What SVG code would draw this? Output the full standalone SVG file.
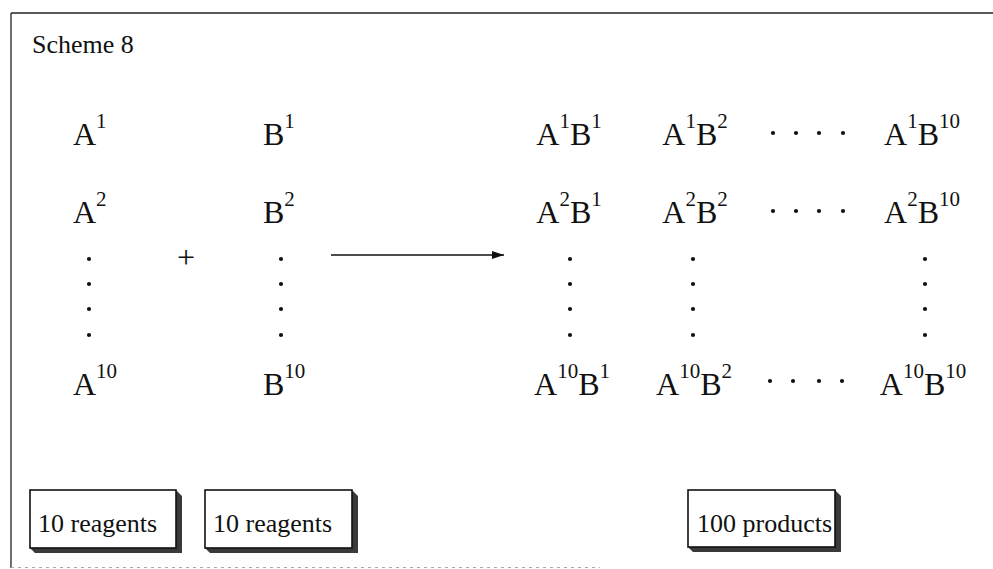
<svg xmlns="http://www.w3.org/2000/svg" width="993" height="569" viewBox="0 0 993 569">
<defs>
<style>
text{font-family:"Liberation Serif","Times New Roman",serif;fill:#111;}
.t{font-size:32px;}
.s{font-size:21px;}
.lab{font-size:26px;}
.dot{fill:#111;}
.box{fill:#fff;stroke:#111;stroke-width:1.6;}
.sh{fill:#3a3a3a;}
</style>
<marker id="ah" viewBox="0 0 12 8" refX="12" refY="4" markerWidth="12" markerHeight="8" markerUnits="userSpaceOnUse" orient="auto">
<path d="M0,0 L12,4 L0,8 Z" fill="#111"/>
</marker>
<circle id="d" r="2.1" class="dot"/>
</defs>
<rect x="0" y="0" width="993" height="569" fill="#fff"/>
<g id="frame">
<line x1="11" y1="13" x2="993" y2="13" stroke="#222" stroke-width="1.6"/>
<line x1="11" y1="13" x2="11" y2="568" stroke="#333" stroke-width="1.4"/>
<line x1="11" y1="567.5" x2="600" y2="567.5" stroke="#aaa" stroke-width="1" stroke-dasharray="3,4"/>
</g>
<g id="title"><text class="lab" x="32" y="53">Scheme 8</text></g>
<g id="reagentsA">
<text class="t" x="73" y="145">A<tspan class="s" dy="-17">1</tspan></text>
<text class="t" x="73" y="223">A<tspan class="s" dy="-17">2</tspan></text>
<use href="#d" x="89" y="259"/><use href="#d" x="89" y="284"/><use href="#d" x="89" y="309"/><use href="#d" x="89" y="335"/>
<text class="t" x="73" y="395">A<tspan class="s" dy="-17">10</tspan></text>
</g>
<g id="plus"><text class="t" x="186" y="268" text-anchor="middle">+</text></g>
<g id="reagentsB">
<text class="t" x="263" y="145">B<tspan class="s" dy="-17">1</tspan></text>
<text class="t" x="263" y="223">B<tspan class="s" dy="-17">2</tspan></text>
<use href="#d" x="281" y="259"/><use href="#d" x="281" y="284"/><use href="#d" x="281" y="309"/><use href="#d" x="281" y="335"/>
<text class="t" x="263" y="395">B<tspan class="s" dy="-17">10</tspan></text>
</g>
<g id="connectors">
<line x1="331" y1="255" x2="504" y2="255" stroke="#111" stroke-width="1.6" marker-end="url(#ah)"/>
</g>
<g id="products">
<text class="t" x="569" y="145" text-anchor="middle">A<tspan class="s" dy="-17">1</tspan><tspan dy="17">B</tspan><tspan class="s" dy="-17">1</tspan></text>
<text class="t" x="695" y="145" text-anchor="middle">A<tspan class="s" dy="-17">1</tspan><tspan dy="17">B</tspan><tspan class="s" dy="-17">2</tspan></text>
<use href="#d" x="773" y="133"/><use href="#d" x="796" y="133"/><use href="#d" x="819" y="133"/><use href="#d" x="843" y="133"/>
<text class="t" x="922" y="145" text-anchor="middle">A<tspan class="s" dy="-17">1</tspan><tspan dy="17">B</tspan><tspan class="s" dy="-17">10</tspan></text>
<text class="t" x="569" y="223" text-anchor="middle">A<tspan class="s" dy="-17">2</tspan><tspan dy="17">B</tspan><tspan class="s" dy="-17">1</tspan></text>
<text class="t" x="695" y="223" text-anchor="middle">A<tspan class="s" dy="-17">2</tspan><tspan dy="17">B</tspan><tspan class="s" dy="-17">2</tspan></text>
<use href="#d" x="773" y="211"/><use href="#d" x="796" y="211"/><use href="#d" x="819" y="211"/><use href="#d" x="843" y="211"/>
<text class="t" x="922" y="223" text-anchor="middle">A<tspan class="s" dy="-17">2</tspan><tspan dy="17">B</tspan><tspan class="s" dy="-17">10</tspan></text>
<use href="#d" x="570" y="259"/><use href="#d" x="570" y="284"/><use href="#d" x="570" y="309"/><use href="#d" x="570" y="335"/>
<use href="#d" x="693" y="259"/><use href="#d" x="693" y="284"/><use href="#d" x="693" y="309"/><use href="#d" x="693" y="335"/>
<use href="#d" x="925" y="259"/><use href="#d" x="925" y="284"/><use href="#d" x="925" y="309"/><use href="#d" x="925" y="335"/>
<text class="t" x="572" y="395" text-anchor="middle">A<tspan class="s" dy="-17">10</tspan><tspan dy="17">B</tspan><tspan class="s" dy="-17">1</tspan></text>
<text class="t" x="694" y="395" text-anchor="middle">A<tspan class="s" dy="-17">10</tspan><tspan dy="17">B</tspan><tspan class="s" dy="-17">2</tspan></text>
<use href="#d" x="770" y="381"/><use href="#d" x="793" y="381"/><use href="#d" x="819" y="381"/><use href="#d" x="842" y="381"/>
<text class="t" x="923" y="395" text-anchor="middle">A<tspan class="s" dy="-17">10</tspan><tspan dy="17">B</tspan><tspan class="s" dy="-17">10</tspan></text>
</g>
<g id="box1">
<polygon class="sh" points="176,490 182,496 182,553 35,553 30,548 176,548"/>
<rect class="box" x="30" y="490" width="146" height="58"/>
<text class="lab" x="38" y="532">10 reagents</text>
</g>
<g id="box2">
<polygon class="sh" points="352,490 358,496 358,553 210,553 205,548 352,548"/>
<rect class="box" x="205" y="490" width="147" height="58"/>
<text class="lab" x="213" y="532">10 reagents</text>
</g>
<g id="box3">
<polygon class="sh" points="835,490 841,496 841,552 693,552 688,547 835,547"/>
<rect class="box" x="688" y="490" width="147" height="57"/>
<text class="lab" x="697" y="532">100 products</text>
</g>
</svg>
